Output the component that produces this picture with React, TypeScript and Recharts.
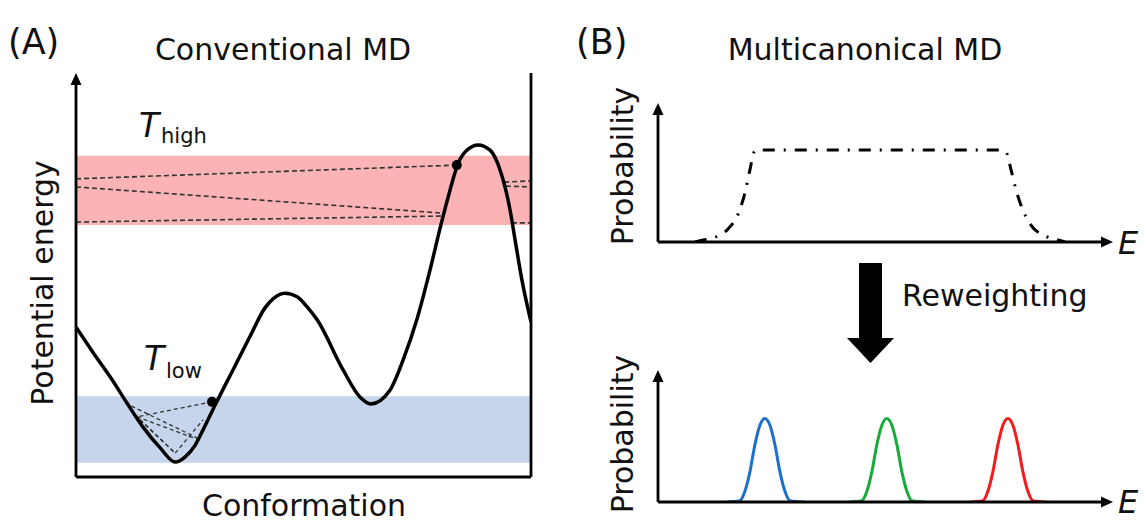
import React from 'react';
import {
  ComposedChart,
  Line,
  XAxis,
  YAxis,
  ReferenceArea,
  ReferenceLine,
  ReferenceDot,
} from 'recharts';

const FONT = '"DejaVu Sans", Verdana, sans-serif';

// ---------- Panel A : potential energy landscape (conformation 0-100, energy 0-100) ----------
const conformation = [0, 3.7, 7.5, 11.2, 14.7, 18.5, 21.8, 24.0, 26.2, 27.9, 30.8, 34.5, 38.2, 41.5, 43.3, 45.9, 48.6, 50.8, 53.0, 58.7, 62.4, 64.8, 69.0, 71.9, 74.9, 77.8, 80.2, 82.2, 84.0, 85.9, 88.4, 91.0, 93.2, 95.4, 96.5, 98.0, 100];
const energy = [37.1, 30.9, 24.8, 18.3, 12.4, 7.2, 3.7, 5.0, 7.9, 11.6, 18.3, 26.5, 34.7, 41.8, 44.1, 45.5, 44.6, 42.1, 38.9, 26.5, 19.8, 18.1, 21.5, 29.0, 38.9, 51.2, 62.4, 71.0, 77.7, 80.9, 82.2, 80.9, 76.0, 66.1, 58.7, 48.8, 38.4];
const highBand = [62.4, 79.5];
const lowBand = [3.5, 20.0];
const highWalker = { x: 83.7, y: 77.2 };
const lowWalker = { x: 29.9, y: 18.6 };
// dashed trajectory pieces [x1, y1, x2, y2]
const highTrajectory = [
  [0, 73.8, 83.7, 77.2],
  [0, 71.8, 80.8, 65.3],
  [0, 63.1, 80.6, 64.6],
  [94.1, 73.0, 100, 73.3],
  [94.5, 72.0, 100, 71.8],
  [95.8, 62.9, 100, 62.9],
];
const lowTrajectory = [
  [29.9, 18.6, 13.4, 14.9],
  [10.8, 18.3, 26.6, 9.7],
  [13.4, 14.9, 27.0, 9.2],
  [11.9, 16.6, 21.8, 5.9],
  [14.1, 14.1, 21.8, 5.9],
  [21.8, 5.9, 27.9, 14.1],
];

// ---------- Panel B top : multicanonical flat distribution ----------
const energyTop = [8.1, 9.9, 12.7, 15.4, 17.6, 19.1, 20.2, 21.1, 21.8, 75.2, 76.5, 77.6, 78.7, 80.0, 81.8, 85.1, 87.9, 89.5];
const probTop = [0, 1.4, 3.6, 9.4, 20.1, 35.3, 51.8, 64.7, 66.2, 66.2, 64.7, 51.8, 37.4, 24.5, 12.9, 4.3, 1.4, 0];

// ---------- Panel B bottom : reweighted canonical distributions ----------
const energyBlue = [15.2, 18.0, 19.1, 20.2, 21.3, 22.4, 23.5, 24.6, 25.7, 26.8, 27.9, 29.0, 31.9];
const energyGreen = [42.0, 44.8, 45.9, 47.0, 48.1, 49.2, 50.3, 51.4, 52.5, 53.6, 54.7, 55.8, 58.7];
const energyRed = [68.6, 71.4, 72.5, 73.6, 74.7, 75.8, 76.9, 78.0, 79.1, 80.2, 81.3, 82.4, 85.3];
const probPeak = [0, 1.0, 8.1, 22.8, 43.4, 58.1, 63.2, 58.1, 43.4, 22.8, 8.1, 1.0, 0];

const zip = (xs: number[], ys: number[]) => xs.map((x, i) => ({ x, y: ys[i] }));
const seg = (s: number[]) => [{ x: s[0], y: s[1] }, { x: s[2], y: s[3] }];

const UpArrow = (props: any) => {
  const { cx, cy } = props;
  return <polygon points={`${cx},${cy} ${cx - 5.5},${cy + 12} ${cx + 5.5},${cy + 12}`} fill="#000" />;
};
const RightArrow = (props: any) => {
  const { cx, cy } = props;
  return <polygon points={`${cx},${cy} ${cx - 12},${cy - 5.5} ${cx - 12},${cy + 5.5}`} fill="#000" />;
};

function PanelA() {
  return (
    <div style={{ position: 'absolute', left: 56, top: 53 }}>
      <ComposedChart width={495} height={444} margin={{ top: 20, right: 20, bottom: 20, left: 20 }}>
        <XAxis type="number" dataKey="x" domain={[0, 100]} allowDataOverflow hide />
        <YAxis type="number" dataKey="y" domain={[0, 100]} allowDataOverflow hide />
        <ReferenceArea x1={0} x2={100} y1={highBand[0]} y2={highBand[1]} fill="#fbb3b6" fillOpacity={1} stroke="none" />
        <ReferenceArea x1={0} x2={100} y1={lowBand[0]} y2={lowBand[1]} fill="#c6d4ec" fillOpacity={1} stroke="none" />
        {highTrajectory.map((s, i) => (
          <Line key={'h' + i} data={seg(s)} dataKey="y" stroke="#333" strokeWidth={1.6} strokeDasharray="5 3" dot={false} isAnimationActive={false} />
        ))}
        {lowTrajectory.map((s, i) => (
          <Line key={'l' + i} data={seg(s)} dataKey="y" stroke="#333" strokeWidth={1.3} strokeDasharray="4 3" dot={false} isAnimationActive={false} />
        ))}
        <Line data={zip(conformation, energy)} dataKey="y" type="monotone" stroke="#000" strokeWidth={3.5} dot={false} isAnimationActive={false} />
        <ReferenceLine segment={[{ x: 0, y: 0 }, { x: 0, y: 98 }]} stroke="#000" strokeWidth={2.8} />
        <ReferenceLine segment={[{ x: 0, y: 0 }, { x: 100, y: 0 }]} stroke="#000" strokeWidth={2.8} />
        <ReferenceLine segment={[{ x: 100, y: 0 }, { x: 100, y: 100 }]} stroke="#000" strokeWidth={2.8} />
        <ReferenceDot x={0} y={100} r={6} shape={UpArrow} />
        <ReferenceDot x={highWalker.x} y={highWalker.y} r={5} fill="#000" stroke="none" />
        <ReferenceDot x={lowWalker.x} y={lowWalker.y} r={5} fill="#000" stroke="none" />
      </ComposedChart>
    </div>
  );
}

function PanelBTop() {
  return (
    <div style={{ position: 'absolute', left: 638, top: 83 }}>
      <ComposedChart width={495} height={179} margin={{ top: 20, right: 20, bottom: 20, left: 20 }}>
        <XAxis type="number" dataKey="x" domain={[0, 100]} allowDataOverflow hide />
        <YAxis type="number" dataKey="y" domain={[0, 100]} allowDataOverflow hide />
        <Line data={zip(energyTop, probTop)} dataKey="y" type="monotone" stroke="#000" strokeWidth={3} strokeDasharray="12 9 2 9" dot={false} isAnimationActive={false} />
        <ReferenceLine segment={[{ x: 0, y: 0 }, { x: 0, y: 94 }]} stroke="#000" strokeWidth={2.8} />
        <ReferenceLine segment={[{ x: 0, y: 0 }, { x: 98, y: 0 }]} stroke="#000" strokeWidth={2.8} />
        <ReferenceDot x={0} y={100} r={6} shape={UpArrow} />
        <ReferenceDot x={100} y={0} r={6} shape={RightArrow} />
      </ComposedChart>
    </div>
  );
}

function PanelBBottom() {
  return (
    <div style={{ position: 'absolute', left: 638, top: 350 }}>
      <ComposedChart width={495} height={162} margin={{ top: 20, right: 20, bottom: 10, left: 20 }}>
        <XAxis type="number" dataKey="x" domain={[0, 100]} allowDataOverflow hide />
        <YAxis type="number" dataKey="y" domain={[0, 100]} allowDataOverflow hide />
        <Line data={zip(energyBlue, probPeak)} dataKey="y" type="monotone" stroke="#1e6fca" strokeWidth={3} dot={false} isAnimationActive={false} />
        <Line data={zip(energyGreen, probPeak)} dataKey="y" type="monotone" stroke="#16ab3a" strokeWidth={3} dot={false} isAnimationActive={false} />
        <Line data={zip(energyRed, probPeak)} dataKey="y" type="monotone" stroke="#f21a1a" strokeWidth={3} dot={false} isAnimationActive={false} />
        <ReferenceLine segment={[{ x: 0, y: 0 }, { x: 0, y: 93 }]} stroke="#000" strokeWidth={2.8} />
        <ReferenceLine segment={[{ x: 0, y: 0 }, { x: 98, y: 0 }]} stroke="#000" strokeWidth={2.8} />
        <ReferenceDot x={0} y={100} r={6} shape={UpArrow} />
        <ReferenceDot x={100} y={0} r={6} shape={RightArrow} />
      </ComposedChart>
    </div>
  );
}

function Overlay() {
  const t = { fontFamily: FONT, fill: '#111' } as const;
  return (
    <svg width={1147} height={523} style={{ position: 'absolute', left: 0, top: 0, pointerEvents: 'none' }}>
      <text x={8} y={54} fontSize={35} {...t}>(A)</text>
      <text x={283} y={60} fontSize={30} textAnchor="middle" {...t}>Conventional MD</text>
      <text x={576} y={54} fontSize={35} {...t}>(B)</text>
      <text x={865} y={60} fontSize={30} textAnchor="middle" {...t}>Multicanonical MD</text>
      <text transform="translate(53,283) rotate(-90)" fontSize={30} textAnchor="middle" {...t}>Potential energy</text>
      <text x={304} y={516} fontSize={30} textAnchor="middle" {...t}>Conformation</text>
      <text x={139} y={137} fontSize={33} fontStyle="italic" {...t}>T</text>
      <text x={161} y={143} fontSize={21} {...t}>high</text>
      <text x={144} y={370} fontSize={33} fontStyle="italic" {...t}>T</text>
      <text x={166} y={378} fontSize={21} {...t}>low</text>
      <text transform="translate(633,166) rotate(-90)" fontSize={30} textAnchor="middle" {...t}>Probability</text>
      <text transform="translate(633,434) rotate(-90)" fontSize={30} textAnchor="middle" {...t}>Probability</text>
      <text x={902} y={306} fontSize={30} {...t}>Reweighting</text>
      <text x={1118} y={254} fontSize={32} fontStyle="italic" {...t}>E</text>
      <text x={1118} y={513} fontSize={32} fontStyle="italic" {...t}>E</text>
      <polygon points="859,263 882,263 882,338 894,338 870.5,363 847,338 859,338" fill="#000" />
    </svg>
  );
}

export default function App() {
  return (
    <div style={{ position: 'absolute', left: 0, top: 0, width: 1147, height: 523, overflow: 'hidden', background: '#fff' }}>
      <PanelA />
      <PanelBTop />
      <PanelBBottom />
      <Overlay />
    </div>
  );
}
